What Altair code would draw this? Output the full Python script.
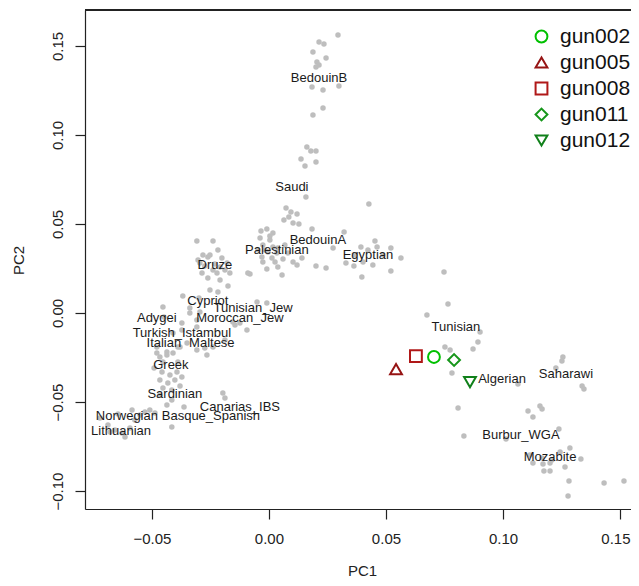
import altair as alt
import pandas as pd

# Reference-population PCA points (PC1, PC2)
gray_x = [
    0.0295, 0.0214, 0.0235, 0.0188, 0.0244, 0.0205, 0.0214, 0.0201, 0.0184, 0.0231,
    0.0299, 0.0231, 0.0188, 0.0162, 0.0179, 0.0201, 0.0137, 0.0201, 0.0154,
    0.0158, 0.0073, 0.0094, 0.0120, 0.0085, 0.0064, 0.0103, 0.0128, 0.0184, 0.0427,
    -0.0034, -0.0009, 0.0017, -0.0038, 0.0004, -0.0026, 0.0017, -0.0004, 0.0034, -0.0030,
    0.0013, 0.0038, 0.0060, 0.0081, -0.0026, 0.0038, -0.0009, 0.0120, 0.0141, -0.0081,
    0.0056, 0.0201, 0.0244, 0.0103, -0.0090, -0.0017, 0.0026, 0.0004, -0.0047, 0.0068,
    0.0321, 0.0274, 0.0393, 0.0453, 0.0462, 0.0521, 0.0564, 0.0329, 0.0363, 0.0402,
    0.0444, 0.0521, 0.0397, 0.0748, 0.0423, 0.0368, 0.0487,
    -0.0308, -0.0239, -0.0218, -0.0282, -0.0261, -0.0295, -0.0231, -0.0209, -0.0179, -0.0286,
    -0.0222, -0.0167, -0.0209, -0.0175, -0.0218, -0.0252, -0.0274, -0.0201, -0.0239, -0.0261,
    -0.0188, -0.0303,
    -0.0368, -0.0299, -0.0252, -0.0338, -0.0453, -0.0449, -0.0372, -0.0308, -0.0145, -0.0094,
    -0.0051, -0.0009, -0.0274, -0.0265, -0.0308, -0.0380, -0.0436, -0.0466,
    -0.0338, -0.0295, -0.0308, -0.0154, -0.0124, -0.0410, -0.0372, -0.0350, -0.0239, -0.0188,
    -0.0479, -0.0389, -0.0479, -0.0436, -0.0410, -0.0457, -0.0423, -0.0393, -0.0466, -0.0432,
    -0.0402, -0.0453, -0.0415, -0.0380, -0.0466, -0.0415, -0.0436, -0.0363, -0.0453, -0.0389,
    -0.0491, -0.0372,
    -0.0197, -0.0188, -0.0415,
    -0.0722, -0.0688, -0.0658, -0.0628, -0.0615, -0.0594, -0.0573, -0.0551, -0.0530, -0.0509,
    -0.0487, -0.0585, -0.0645, -0.0679,
    0.0765, 0.0675, 0.0902, 0.0893, 0.0872, 0.0752, 0.0774, 0.0782, 0.1064, 0.1256,
    0.1252, 0.1226, 0.1338, 0.1346, 0.0808, 0.1107, 0.1128, 0.1158, 0.1167, 0.0833,
    0.1013, 0.1239, 0.1244, 0.1286, 0.1115, 0.1167, 0.1209, 0.1128, 0.1171, 0.1201,
    0.1175, 0.1201, 0.1265, 0.1333, 0.1282, 0.1432, 0.1517, 0.1278,
]
gray_y = [
    0.1562, 0.1522, 0.1511, 0.1466, 0.1433, 0.1410, 0.1393, 0.1382, 0.1270, 0.1253,
    0.1275, 0.1152, 0.1112, 0.0933, 0.0910, 0.0910, 0.0865, 0.0848, 0.0826,
    0.0652, 0.0590, 0.0567, 0.0556, 0.0539, 0.0522, 0.0506, 0.0500, 0.0472, 0.0612,
    0.0461, 0.0472, 0.0449, 0.0421, 0.0410, 0.0382, 0.0371, 0.0343, 0.0337, 0.0315,
    0.0309, 0.0365, 0.0303, 0.0337, 0.0287, 0.0258, 0.0247, 0.0270, 0.0309, 0.0219,
    0.0213, 0.0264, 0.0253, 0.0287, 0.0225, 0.0354, 0.0287, 0.0433, 0.0354, 0.0382,
    0.0455, 0.0365, 0.0371, 0.0404, 0.0371, 0.0365, 0.0309, 0.0281, 0.0264, 0.0287,
    0.0270, 0.0236, 0.0202, 0.0230, 0.0354, 0.0326, 0.0326,
    0.0404, 0.0404, 0.0354, 0.0326, 0.0315, 0.0281, 0.0275, 0.0258, 0.0281, 0.0225,
    0.0225, 0.0225, 0.0185, 0.0152, 0.0118, 0.0326, 0.0264, 0.0309, 0.0242, 0.0197,
    0.0242, 0.0298,
    0.0096, 0.0084, 0.0129, 0.0028, 0.0034, -0.0022, -0.0056, -0.0039, -0.0067, -0.0096,
    0.0062, 0.0056, -0.0197, -0.0236, -0.0208, -0.0191, -0.0219, -0.0247,
    0.0000, 0.0006, -0.0079, -0.0051, -0.0056, -0.0112, -0.0096, -0.0169, -0.0191, -0.0152,
    -0.0191, -0.0191, -0.0225, -0.0236, -0.0225, -0.0331, -0.0348, -0.0331, -0.0376, -0.0393,
    -0.0376, -0.0421, -0.0433, -0.0410, -0.0461, -0.0489, -0.0517, -0.0528, -0.0275, -0.0275,
    -0.0309, -0.0360,
    -0.0449, -0.0478, -0.0640,
    -0.0590, -0.0629, -0.0657, -0.0674, -0.0697, -0.0646, -0.0601, -0.0573, -0.0556, -0.0545,
    -0.0562, -0.0545, -0.0567, -0.0669,
    0.0051, -0.0011, -0.0107, -0.0163, -0.0202, -0.0191, -0.0208, -0.0337, -0.0399, -0.0247,
    -0.0270, -0.0309, -0.0410, -0.0427, -0.0534, -0.0551, -0.0584, -0.0522, -0.0539, -0.0691,
    -0.0708, -0.0652, -0.0781, -0.0758, -0.0798, -0.0815, -0.0826, -0.0843, -0.0848, -0.0843,
    -0.0888, -0.0888, -0.0865, -0.0820, -0.0944, -0.0955, -0.0944, -0.1028,
]

# Population labels
label_names = [
    "BedouinB", "Saudi", "BedouinA", "Palestinian", "Egyptian", "Druze", "Cypriot",
    "Tunisian_Jew", "Adygei", "Moroccan_Jew", "Turkish_Istambul", "Italian", "Maltese",
    "Greek", "Sardinian", "Canarias_IBS", "Norwegian", "Basque_Spanish", "Lithuanian",
    "Tunisian", "Algerian", "Saharawi", "Burbur_WGA", "Mozabite",
]
label_x = [
    0.0214, 0.0098, 0.0209, 0.0034, 0.0423, -0.0231, -0.0261,
    -0.0068, -0.0479, -0.0124, -0.0372, -0.0449, -0.0244,
    -0.0419, -0.0402, -0.0124, -0.0607, -0.0248, -0.0632,
    0.0799, 0.0996, 0.1269, 0.1077, 0.1201,
]
label_y = [
    0.1320, 0.0708, 0.0410, 0.0354, 0.0326, 0.0270, 0.0067,
    0.0028, -0.0028, -0.0028, -0.0112, -0.0169, -0.0169,
    -0.0292, -0.0455, -0.0528, -0.0579, -0.0579, -0.0663,
    -0.0079, -0.0371, -0.0343, -0.0685, -0.0809,
]

# Ancient samples
sample_names = ["gun002", "gun005", "gun008", "gun011", "gun012"]
sample_x = [0.0705, 0.0543, 0.0628, 0.0791, 0.0859]
sample_y = [-0.0247, -0.0315, -0.0242, -0.0264, -0.0388]
sample_colors = ["#00c000", "#961414", "#b01818", "#16961a", "#10801a"]
sample_shapes = ["circle", "triangle-up", "square", "diamond", "triangle-down"]

W, H = 546, 499
FONT = "Liberation Sans"
AX = "#222222"

gray_df = pd.DataFrame({"PC1": gray_x, "PC2": gray_y})
lab_df = pd.DataFrame({"PC1": label_x, "PC2": label_y, "name": label_names})
samp_df = pd.DataFrame({"PC1": sample_x, "PC2": sample_y, "sample": sample_names})

xscale = alt.Scale(domain=[-0.0786, 0.1547], nice=False, zero=False)
yscale = alt.Scale(domain=[-0.1101, 0.1702], nice=False, zero=False)

xaxis = alt.Axis(
    values=[-0.05, 0.0, 0.05, 0.10, 0.15], format=".2f", grid=False,
    tickSize=10, tickColor=AX, domainColor=AX, domainWidth=1.2, tickWidth=1.2,
    labelFont=FONT, labelFontSize=15, labelColor=AX, labelPadding=12,
    labelAlign={"condition": {"test": "datum.value >= 0.14", "value": "right"}, "value": "center"},
    labelOffset={"condition": {"test": "datum.value >= 0.14", "value": 10}, "value": 0},
    title="PC1", titleFont=FONT, titleFontSize=15, titleFontWeight="normal",
    titleColor=AX, titleX=277, titleY=66, titleBaseline="alphabetic", titleAlign="center",
)
yaxis = alt.Axis(
    values=[-0.10, -0.05, 0.0, 0.05, 0.10, 0.15], format=".2f", grid=False,
    tickSize=10, tickColor=AX, domainColor=AX, domainWidth=1.2, tickWidth=1.2,
    labelFont=FONT, labelFontSize=15, labelColor=AX, labelPadding=13,
    labelAngle=270, labelAlign="center", labelBaseline="alphabetic",
    title="PC2", titleFont=FONT, titleFontSize=15, titleFontWeight="normal",
    titleColor=AX, titleAngle=270, titleX=-62, titleY=250,
    titleBaseline="alphabetic", titleAlign="center",
)

base_x = alt.X("PC1:Q", scale=xscale, axis=xaxis)
base_y = alt.Y("PC2:Q", scale=yscale, axis=yaxis)

points = alt.Chart(gray_df).mark_circle(size=30, color="#bebebe", opacity=1).encode(
    x=base_x, y=base_y
)

labels = alt.Chart(lab_df).mark_text(
    font=FONT, fontSize=13, color="#1a1a1a", align="center", baseline="middle"
).encode(x="PC1:Q", y="PC2:Q", text="name:N")

legend = alt.Legend(
    orient="none", legendX=446, legendY=16, padding=0,
    labelFont=FONT, labelFontSize=21, labelColor="#111111",
    symbolSize=140, symbolStrokeWidth=2, rowPadding=4, labelOffset=8,
)

samples = alt.Chart(samp_df).mark_point(filled=False, size=140, strokeWidth=2, opacity=1).encode(
    x="PC1:Q",
    y="PC2:Q",
    color=alt.Color("sample:N", scale=alt.Scale(domain=sample_names, range=sample_colors),
                    legend=legend, title=None),
    shape=alt.Shape("sample:N", scale=alt.Scale(domain=sample_names, range=sample_shapes),
                    legend=legend, title=None),
)

top_line = alt.Chart(gray_df).mark_rule(color=AX, strokeWidth=1.2).encode(
    x=alt.value(0), x2=alt.value(W + 10), y=alt.value(0)
)

chart = (
    alt.layer(points, labels, samples, top_line)
    .properties(
        width=W, height=H,
        autosize=alt.AutoSizeParams(type="none"),
        padding={"left": 77, "top": 2, "right": 0, "bottom": 69},
    )
    .configure_view(stroke=None)
    .configure(background="white")
)

chart.save("out.html", embed_options={"renderer": "svg", "actions": False})
